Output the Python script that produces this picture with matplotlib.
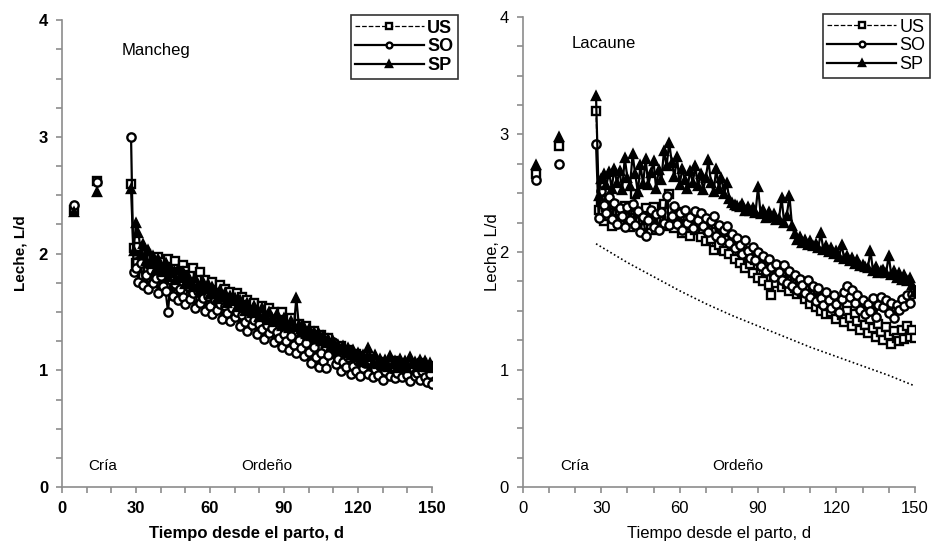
import numpy as np
import matplotlib
matplotlib.use("Agg")
import matplotlib.pyplot as plt

plt.rcParams['font.family'] = ['Liberation Sans', 'DejaVu Sans']

# suckling period points (days 5 and 14)
cria_days = [5, 14]
# milking period, daily from day 28 to 150
days = list(range(28, 151))

# Manchega
man_cria_us = [2.37, 2.62]
man_cria_so = [2.42, 2.61]
man_cria_sp = [2.36, 2.53]

man_us = [2.60,
          2.05, 1.92, 2.06, 1.88, 1.98, 2.00, 1.85, 1.96, 1.90,
          1.82, 1.97, 1.86, 1.93, 1.78, 1.95, 1.84, 1.80, 1.94, 1.83,
          1.76, 1.90, 1.85, 1.72, 1.82, 1.88, 1.70, 1.79, 1.84, 1.68,
          1.77, 1.71, 1.64, 1.76, 1.69, 1.60, 1.73, 1.66, 1.70, 1.58,
          1.67, 1.62, 1.55, 1.66, 1.58, 1.63, 1.50, 1.60, 1.56, 1.47,
          1.58, 1.52, 1.44, 1.55, 1.49, 1.41, 1.53, 1.45, 1.50, 1.38,
          1.44, 1.50, 1.36, 1.42, 1.33, 1.45, 1.38, 1.30, 1.40, 1.35,
          1.27, 1.38, 1.31, 1.24, 1.34, 1.28, 1.20, 1.30, 1.25, 1.19,
          1.28, 1.14, 1.22, 1.18, 1.10, 1.21, 1.15, 1.08, 1.17, 1.12,
          1.05, 1.14, 1.09, 1.02, 1.12, 1.06, 1.00, 1.10, 1.04, 0.98,
          1.07, 1.01, 0.96, 1.06, 1.03, 0.97, 1.08, 0.99, 1.04, 0.95,
          1.02, 1.06, 0.97, 1.00, 1.05, 0.94, 1.03, 0.98, 1.06, 0.96,
          1.01, 1.04, 0.99]
man_so = [3.00,
          1.84, 1.88, 1.76, 1.92, 1.73, 1.82, 1.70, 1.86, 1.75,
          1.79, 1.66, 1.81, 1.72, 1.68, 1.50, 1.77, 1.64, 1.74, 1.60,
          1.70, 1.63, 1.57, 1.72, 1.61, 1.66, 1.53, 1.68, 1.58, 1.62,
          1.51, 1.64, 1.55, 1.48, 1.60, 1.52, 1.57, 1.44, 1.55, 1.49,
          1.42, 1.53, 1.46, 1.50, 1.38, 1.47, 1.41, 1.34, 1.46, 1.39,
          1.43, 1.31, 1.40, 1.35, 1.27, 1.39, 1.32, 1.36, 1.24, 1.33,
          1.28, 1.20, 1.31, 1.25, 1.17, 1.29, 1.22, 1.15, 1.26, 1.19,
          1.12, 1.23, 1.16, 1.06, 1.20, 1.11, 1.03, 1.15, 1.08, 1.02,
          1.13, 1.21, 1.24, 1.05, 1.10, 0.99, 1.07, 1.03, 1.11, 0.97,
          1.04, 0.99, 1.08, 0.95, 1.02, 1.06, 0.97, 1.09, 0.94, 1.01,
          0.96, 1.04, 0.92, 0.99, 1.05, 0.95, 1.01, 0.93, 0.98, 1.03,
          0.94, 1.00, 0.96, 0.91, 1.02, 0.95, 0.98, 0.92, 0.99, 0.94,
          0.90, 0.97, 0.88]
man_sp = [2.55,
          2.02, 2.26, 2.18, 2.00, 2.08, 1.94, 2.03, 1.91, 1.98,
          1.87, 1.95, 1.89, 1.84, 1.92, 1.80, 1.88, 1.83, 1.77, 1.86,
          1.79, 1.84, 1.74, 1.81, 1.76, 1.71, 1.79, 1.73, 1.69, 1.76,
          1.70, 1.74, 1.65, 1.71, 1.67, 1.61, 1.69, 1.63, 1.66, 1.58,
          1.64, 1.59, 1.62, 1.54, 1.60, 1.56, 1.51, 1.58, 1.53, 1.49,
          1.55, 1.50, 1.46, 1.53, 1.47, 1.43, 1.50, 1.45, 1.41, 1.48,
          1.43, 1.38, 1.45, 1.40, 1.36, 1.42, 1.37, 1.62, 1.39, 1.33,
          1.37, 1.31, 1.35, 1.29, 1.33, 1.27, 1.31, 1.25, 1.29, 1.23,
          1.27, 1.21, 1.25, 1.19, 1.22, 1.17, 1.21, 1.15, 1.19, 1.13,
          1.17, 1.11, 1.15, 1.09, 1.13, 1.07, 1.19, 1.11, 1.06, 1.13,
          1.05, 1.10, 1.04, 1.09, 1.03, 1.12, 1.05, 1.08, 1.02, 1.10,
          1.04, 1.08, 1.02, 1.11, 1.05, 1.07, 1.03, 1.09, 1.04, 1.08,
          1.03, 1.06, 1.02]

# Lacaune
lac_cria_us = [2.66, 2.90]
lac_cria_so = [2.61, 2.75]
lac_cria_sp = [2.74, 2.98]

lac_us = [3.20,
          2.36, 2.44, 2.26, 2.38, 2.31, 2.22, 2.40, 2.28, 2.35,
          2.24, 2.39, 2.30, 2.21, 2.36, 2.49, 2.27, 2.33, 2.20, 2.37,
          2.29, 2.23, 2.38, 2.19, 2.31, 2.26, 2.41, 2.22, 2.49, 2.28,
          2.20, 2.34, 2.25, 2.16, 2.31, 2.23, 2.14, 2.27, 2.19, 2.24,
          2.13, 2.23, 2.09, 2.19, 2.11, 2.02, 2.17, 2.06, 2.14, 2.01,
          2.10, 1.98, 2.07, 1.94, 2.04, 1.91, 2.00, 1.86, 1.97, 1.90,
          1.82, 1.93, 1.78, 1.88, 1.75, 1.84, 1.72, 1.63, 1.80, 1.74,
          1.79, 1.70, 1.76, 1.73, 1.67, 1.75, 1.69, 1.64, 1.72, 1.66,
          1.60, 1.69, 1.56, 1.64, 1.53, 1.61, 1.50, 1.58, 1.47, 1.56,
          1.49, 1.55, 1.43, 1.52, 1.46, 1.40, 1.50, 1.44, 1.37, 1.47,
          1.41, 1.34, 1.45, 1.38, 1.31, 1.43, 1.35, 1.28, 1.39, 1.32,
          1.25, 1.36, 1.29, 1.22, 1.33, 1.27, 1.24, 1.34, 1.26, 1.37,
          1.28, 1.34, 1.27]
lac_so = [2.92,
          2.29, 2.52, 2.40, 2.33, 2.47, 2.28, 2.42, 2.24, 2.37,
          2.31, 2.21, 2.38, 2.27, 2.41, 2.23, 2.35, 2.17, 2.30, 2.14,
          2.27, 2.36, 2.21, 2.32, 2.19, 2.34, 2.25, 2.48, 2.23, 2.31,
          2.39, 2.24, 2.33, 2.19, 2.36, 2.25, 2.30, 2.20, 2.35, 2.27,
          2.33, 2.22, 2.29, 2.17, 2.26, 2.31, 2.14, 2.23, 2.10, 2.19,
          2.22, 2.08, 2.15, 2.03, 2.12, 2.06, 1.98, 2.10, 2.01, 1.95,
          2.04, 1.93, 2.00, 1.88, 1.97, 1.84, 1.94, 1.87, 1.79, 1.90,
          1.83, 1.76, 1.89, 1.74, 1.84, 1.71, 1.80, 1.68, 1.77, 1.72,
          1.65, 1.76, 1.62, 1.71, 1.58, 1.69, 1.61, 1.55, 1.66, 1.59,
          1.52, 1.63, 1.56, 1.49, 1.60, 1.66, 1.71, 1.62, 1.68, 1.57,
          1.63, 1.51, 1.59, 1.47, 1.56, 1.50, 1.61, 1.45, 1.55, 1.62,
          1.53, 1.59, 1.48, 1.57, 1.44, 1.55, 1.51, 1.60, 1.54, 1.63,
          1.57, 1.64, 1.68]
lac_sp = [3.33,
          2.48, 2.62, 2.66, 2.57, 2.68, 2.54, 2.71, 2.59, 2.69,
          2.53, 2.80, 2.63, 2.56, 2.83, 2.66, 2.51, 2.74, 2.58, 2.79,
          2.57, 2.67, 2.77, 2.54, 2.70, 2.61, 2.86, 2.73, 2.93, 2.76,
          2.64, 2.81, 2.57, 2.71, 2.61, 2.54, 2.69, 2.59, 2.73, 2.56,
          2.66, 2.53, 2.63, 2.78, 2.59, 2.51, 2.71, 2.54, 2.63, 2.49,
          2.59, 2.45, 2.42, 2.40, 2.39, 2.38, 2.41, 2.35, 2.38, 2.35,
          2.37, 2.33, 2.55, 2.32, 2.36, 2.29, 2.34, 2.30, 2.32, 2.27,
          2.28, 2.46, 2.25, 2.31, 2.48, 2.22, 2.15, 2.10, 2.13, 2.08,
          2.10, 2.06, 2.09, 2.05, 2.07, 2.03, 2.16, 2.02, 2.05, 2.00,
          2.03, 1.98, 2.01, 1.96, 2.06, 1.94, 1.97, 1.92, 1.95, 1.90,
          1.93, 1.88, 1.89, 1.87, 1.86, 2.01, 1.84, 1.87, 1.82, 1.84,
          1.85, 1.82, 1.97, 1.80, 1.84, 1.78, 1.82, 1.76, 1.80, 1.75,
          1.78, 1.72, 1.66]

# dotted reference curve in the Lacaune panel
trend_days = [28, 40, 50, 60, 70, 80, 90, 100, 110, 120, 130, 140, 150]
trend_vals = [2.07, 1.91, 1.79, 1.67, 1.56, 1.46, 1.37, 1.28, 1.19, 1.11, 1.03, 0.95, 0.86]


def panel(ax, cria, milk, bold, name, name_xy, cria_x, ordeno_x, legend_box, ylabelpad):
    weight = 'bold' if bold else 'normal'
    styles = [dict(ls='--', lw=0.9, marker='s', mfc='white', ms=5.8),
              dict(ls='-', lw=1.6, marker='o', mfc='white', ms=6),
              dict(ls='-', lw=1.6, marker='^', mfc='black', ms=6.2)]
    labels = ['US', 'SO', 'SP']
    handles = []
    for c, m, st, lab in zip(cria, milk, styles, labels):
        ax.plot(cria_days, c, ls='none', marker=st['marker'], mfc=st['mfc'],
                mec='black', mew=1.7, ms=st['ms'])
        h, = ax.plot(days, m, color='black', mec='black', mew=1.7, label=lab, **st)
        handles.append(h)

    ax.set_xlim(0, 150)
    ax.set_ylim(0, 4)
    ax.set_xticks(range(0, 151, 30))
    ax.set_xticks(range(0, 151, 10), minor=True)
    ax.set_yticks(range(0, 5))
    ax.set_yticks(np.arange(0, 4.01, 0.25), minor=True)
    for s in ['top', 'right']:
        ax.spines[s].set_visible(False)
    for s in ['left', 'bottom']:
        ax.spines[s].set_color('#8c8c8c')
        ax.spines[s].set_linewidth(1.2)
    ax.tick_params(which='both', direction='out', color='#8c8c8c', width=1.2, length=4)
    ax.tick_params(which='major', labelsize=12, pad=6)
    for t in ax.get_xticklabels() + ax.get_yticklabels():
        t.set_fontweight(weight)
    ax.set_xlabel('Tiempo desde el parto, d', fontsize=12, fontweight=weight, labelpad=7)
    ax.set_ylabel('Leche, L/d', fontsize=11 if bold else 12, fontweight=weight,
                  labelpad=ylabelpad)

    ax.text(name_xy[0], name_xy[1], name, fontsize=12, va='center', ha='left')
    ax.text(cria_x, 0.18, 'Cría', fontsize=11, va='center', ha='left')
    ax.text(ordeno_x, 0.18, 'Ordeño', fontsize=11, va='center', ha='left')

    leg = ax.legend(handles=handles, loc='upper right', bbox_to_anchor=legend_box,
                    bbox_transform=ax.figure.transFigure, frameon=True, fancybox=False,
                    handlelength=3.8, handletextpad=0.2, borderpad=0.25, labelspacing=0.1,
                    borderaxespad=0, markerscale=0.7, prop={'size': 13, 'weight': weight})
    leg.get_frame().set_edgecolor('black')
    leg.get_frame().set_linewidth(1.2)


fig = plt.figure(figsize=(9.32, 5.46), dpi=100)
ax1 = fig.add_axes([0.0665, 0.108, 0.397, 0.855])
ax2 = fig.add_axes([0.561, 0.108, 0.4206, 0.861])

panel(ax1, [man_cria_us, man_cria_so, man_cria_sp], [man_us, man_so, man_sp], True,
      'Mancheg', (24.3, 3.74), 10.5, 72.5, (458 / 932, 1 - 15 / 546), 8)
panel(ax2, [lac_cria_us, lac_cria_so, lac_cria_sp], [lac_us, lac_so, lac_sp], False,
      'Lacaune', (18.7, 3.77), 14.2, 72.3, (930 / 932, 1 - 14 / 546), 0)
ax2.plot(trend_days, trend_vals, color='black', ls=(0, (1, 1.5)), lw=1.2)

fig.savefig('out.png', dpi=100)
